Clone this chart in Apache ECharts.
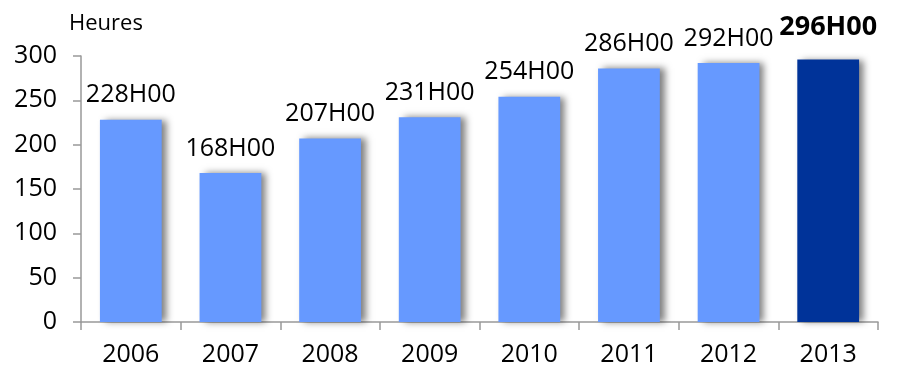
<!DOCTYPE html>
<html><head><meta charset="utf-8">
<script src="https://cdn.jsdelivr.net/npm/echarts@6/dist/echarts.min.js"></script>
<style>html,body{margin:0;padding:0;background:#fff}#c{width:909px;height:371px}</style>
</head><body><div id="c"></div>
<script>
var years = ['2006','2007','2008','2009','2010','2011','2012','2013'];
var hours = [228,168,207,231,254,286,292,296];
var yTicks = [0,50,100,150,200,250,300];
var unitLabel = 'Heures';
var FONT = 'Open Sans';
var light = '#6699FF', dark = '#003399';
var chart = echarts.init(document.getElementById('c'));
var data = hours.map(function(v,i){
  var last = i === hours.length-1;
  return {
    value: v,
    itemStyle: {color: last ? dark : light},
    label: last ? {fontWeight:'bold', fontSize:27, distance:19} : {}
  };
});
chart.setOption({
  animation:false,
  title:{text:unitLabel,left:64,top:8,textStyle:{fontFamily:FONT,fontSize:22,fontWeight:'normal',color:'#000'}},
  grid:{left:81,right:31,top:56,bottom:49,containLabel:false},
  xAxis:{type:'category',data:years,
    axisLine:{lineStyle:{color:'#999',width:1.5}},
    axisTick:{show:true,length:8,alignWithLabel:false,lineStyle:{color:'#999',width:1.5}},
    axisLabel:{fontFamily:FONT,fontSize:25,color:'#000',margin:20}},
  yAxis:{type:'value',min:0,max:300,interval:50,
    axisLine:{show:true,lineStyle:{color:'#999',width:1.5}},
    axisTick:{show:true,length:8,lineStyle:{color:'#999',width:1.5}},
    splitLine:{show:false},
    axisLabel:{fontFamily:FONT,fontSize:25,color:'#000',margin:24,
      formatter:function(v){return yTicks.indexOf(v)>=0?String(v):'';}}},
  series:[{type:'bar',data:data,barWidth:'62%',
    itemStyle:{shadowBlur:7,shadowOffsetX:5,shadowOffsetY:0,shadowColor:'rgba(0,0,0,0.5)'},
    label:{show:true,position:'top',distance:12,fontFamily:FONT,fontSize:25,color:'#000',
      formatter:function(p){return p.value+'H00';}}}]
});
</script></body></html>
